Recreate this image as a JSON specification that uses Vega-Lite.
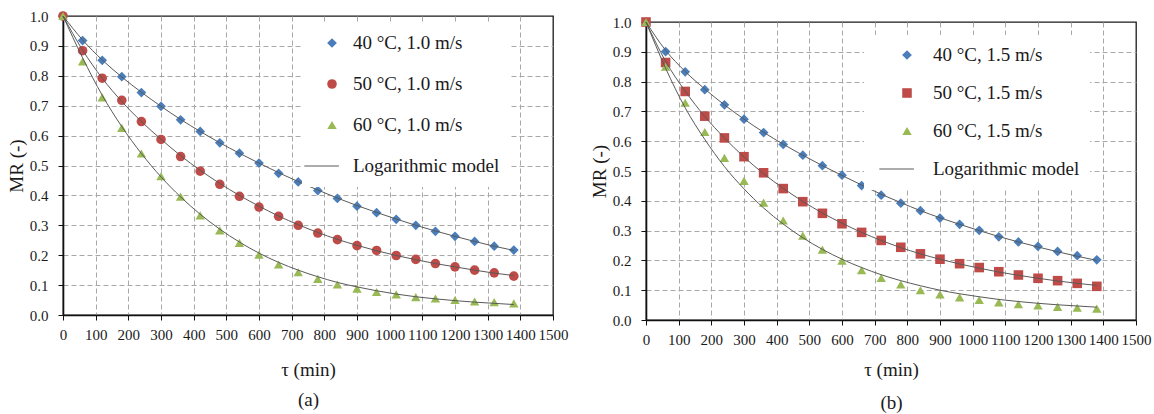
{
  "$schema": "https://vega.github.io/schema/vega-lite/v6.json",
  "background": "white",
  "padding": {"left": 6, "top": 8, "right": 0, "bottom": 0},
  "spacing": 20,
  "datasets": {
    "a": [
      {"t":0,"s":"40 °C, 1.0 m/s","mr":1.0,"fit":1.0},
      {"t":60,"s":"40 °C, 1.0 m/s","mr":0.918,"fit":0.920},
      {"t":120,"s":"40 °C, 1.0 m/s","mr":0.852,"fit":0.853},
      {"t":180,"s":"40 °C, 1.0 m/s","mr":0.797,"fit":0.796},
      {"t":240,"s":"40 °C, 1.0 m/s","mr":0.744,"fit":0.745},
      {"t":300,"s":"40 °C, 1.0 m/s","mr":0.698,"fit":0.698},
      {"t":360,"s":"40 °C, 1.0 m/s","mr":0.653,"fit":0.654},
      {"t":420,"s":"40 °C, 1.0 m/s","mr":0.614,"fit":0.614},
      {"t":480,"s":"40 °C, 1.0 m/s","mr":0.576,"fit":0.576},
      {"t":540,"s":"40 °C, 1.0 m/s","mr":0.541,"fit":0.541},
      {"t":600,"s":"40 °C, 1.0 m/s","mr":0.508,"fit":0.508},
      {"t":660,"s":"40 °C, 1.0 m/s","mr":0.474,"fit":0.476},
      {"t":720,"s":"40 °C, 1.0 m/s","mr":0.445,"fit":0.446},
      {"t":780,"s":"40 °C, 1.0 m/s","mr":0.416,"fit":0.418},
      {"t":840,"s":"40 °C, 1.0 m/s","mr":0.390,"fit":0.391},
      {"t":900,"s":"40 °C, 1.0 m/s","mr":0.364,"fit":0.366},
      {"t":960,"s":"40 °C, 1.0 m/s","mr":0.342,"fit":0.343},
      {"t":1020,"s":"40 °C, 1.0 m/s","mr":0.320,"fit":0.321},
      {"t":1080,"s":"40 °C, 1.0 m/s","mr":0.300,"fit":0.300},
      {"t":1140,"s":"40 °C, 1.0 m/s","mr":0.280,"fit":0.281},
      {"t":1200,"s":"40 °C, 1.0 m/s","mr":0.263,"fit":0.263},
      {"t":1260,"s":"40 °C, 1.0 m/s","mr":0.246,"fit":0.246},
      {"t":1320,"s":"40 °C, 1.0 m/s","mr":0.230,"fit":0.230},
      {"t":1380,"s":"40 °C, 1.0 m/s","mr":0.217,"fit":0.216},
      {"t":0,"s":"50 °C, 1.0 m/s","mr":1.0,"fit":1.0},
      {"t":60,"s":"50 °C, 1.0 m/s","mr":0.884,"fit":0.886},
      {"t":120,"s":"50 °C, 1.0 m/s","mr":0.792,"fit":0.792},
      {"t":180,"s":"50 °C, 1.0 m/s","mr":0.718,"fit":0.714},
      {"t":240,"s":"50 °C, 1.0 m/s","mr":0.647,"fit":0.647},
      {"t":300,"s":"50 °C, 1.0 m/s","mr":0.587,"fit":0.588},
      {"t":360,"s":"50 °C, 1.0 m/s","mr":0.530,"fit":0.533},
      {"t":420,"s":"50 °C, 1.0 m/s","mr":0.481,"fit":0.484},
      {"t":480,"s":"50 °C, 1.0 m/s","mr":0.437,"fit":0.440},
      {"t":540,"s":"50 °C, 1.0 m/s","mr":0.397,"fit":0.400},
      {"t":600,"s":"50 °C, 1.0 m/s","mr":0.361,"fit":0.364},
      {"t":660,"s":"50 °C, 1.0 m/s","mr":0.330,"fit":0.331},
      {"t":720,"s":"50 °C, 1.0 m/s","mr":0.300,"fit":0.302},
      {"t":780,"s":"50 °C, 1.0 m/s","mr":0.274,"fit":0.276},
      {"t":840,"s":"50 °C, 1.0 m/s","mr":0.252,"fit":0.253},
      {"t":900,"s":"50 °C, 1.0 m/s","mr":0.232,"fit":0.233},
      {"t":960,"s":"50 °C, 1.0 m/s","mr":0.216,"fit":0.215},
      {"t":1020,"s":"50 °C, 1.0 m/s","mr":0.199,"fit":0.199},
      {"t":1080,"s":"50 °C, 1.0 m/s","mr":0.186,"fit":0.185},
      {"t":1140,"s":"50 °C, 1.0 m/s","mr":0.172,"fit":0.172},
      {"t":1200,"s":"50 °C, 1.0 m/s","mr":0.161,"fit":0.161},
      {"t":1260,"s":"50 °C, 1.0 m/s","mr":0.150,"fit":0.150},
      {"t":1320,"s":"50 °C, 1.0 m/s","mr":0.141,"fit":0.140},
      {"t":1380,"s":"50 °C, 1.0 m/s","mr":0.130,"fit":0.132},
      {"t":0,"s":"60 °C, 1.0 m/s","mr":1.0,"fit":1.0},
      {"t":60,"s":"60 °C, 1.0 m/s","mr":0.848,"fit":0.860},
      {"t":120,"s":"60 °C, 1.0 m/s","mr":0.728,"fit":0.735},
      {"t":180,"s":"60 °C, 1.0 m/s","mr":0.626,"fit":0.630},
      {"t":240,"s":"60 °C, 1.0 m/s","mr":0.540,"fit":0.540},
      {"t":300,"s":"60 °C, 1.0 m/s","mr":0.464,"fit":0.462},
      {"t":360,"s":"60 °C, 1.0 m/s","mr":0.396,"fit":0.395},
      {"t":420,"s":"60 °C, 1.0 m/s","mr":0.333,"fit":0.337},
      {"t":480,"s":"60 °C, 1.0 m/s","mr":0.283,"fit":0.287},
      {"t":540,"s":"60 °C, 1.0 m/s","mr":0.241,"fit":0.244},
      {"t":600,"s":"60 °C, 1.0 m/s","mr":0.202,"fit":0.207},
      {"t":660,"s":"60 °C, 1.0 m/s","mr":0.169,"fit":0.176},
      {"t":720,"s":"60 °C, 1.0 m/s","mr":0.143,"fit":0.150},
      {"t":780,"s":"60 °C, 1.0 m/s","mr":0.121,"fit":0.128},
      {"t":840,"s":"60 °C, 1.0 m/s","mr":0.102,"fit":0.109},
      {"t":900,"s":"60 °C, 1.0 m/s","mr":0.088,"fit":0.094},
      {"t":960,"s":"60 °C, 1.0 m/s","mr":0.077,"fit":0.081},
      {"t":1020,"s":"60 °C, 1.0 m/s","mr":0.069,"fit":0.070},
      {"t":1080,"s":"60 °C, 1.0 m/s","mr":0.060,"fit":0.061},
      {"t":1140,"s":"60 °C, 1.0 m/s","mr":0.055,"fit":0.054},
      {"t":1200,"s":"60 °C, 1.0 m/s","mr":0.050,"fit":0.048},
      {"t":1260,"s":"60 °C, 1.0 m/s","mr":0.045,"fit":0.043},
      {"t":1320,"s":"60 °C, 1.0 m/s","mr":0.043,"fit":0.039},
      {"t":1380,"s":"60 °C, 1.0 m/s","mr":0.039,"fit":0.035}
    ],
    "b": [
      {"t":0,"s":"40 °C, 1.5 m/s","mr":1.0,"fit":1.0},
      {"t":60,"s":"40 °C, 1.5 m/s","mr":0.901,"fit":0.905},
      {"t":120,"s":"40 °C, 1.5 m/s","mr":0.833,"fit":0.834},
      {"t":180,"s":"40 °C, 1.5 m/s","mr":0.773,"fit":0.775},
      {"t":240,"s":"40 °C, 1.5 m/s","mr":0.722,"fit":0.722},
      {"t":300,"s":"40 °C, 1.5 m/s","mr":0.674,"fit":0.674},
      {"t":360,"s":"40 °C, 1.5 m/s","mr":0.629,"fit":0.630},
      {"t":420,"s":"40 °C, 1.5 m/s","mr":0.589,"fit":0.590},
      {"t":480,"s":"40 °C, 1.5 m/s","mr":0.553,"fit":0.553},
      {"t":540,"s":"40 °C, 1.5 m/s","mr":0.518,"fit":0.518},
      {"t":600,"s":"40 °C, 1.5 m/s","mr":0.486,"fit":0.485},
      {"t":660,"s":"40 °C, 1.5 m/s","mr":0.451,"fit":0.453},
      {"t":720,"s":"40 °C, 1.5 m/s","mr":0.419,"fit":0.422},
      {"t":780,"s":"40 °C, 1.5 m/s","mr":0.392,"fit":0.394},
      {"t":840,"s":"40 °C, 1.5 m/s","mr":0.367,"fit":0.367},
      {"t":900,"s":"40 °C, 1.5 m/s","mr":0.342,"fit":0.343},
      {"t":960,"s":"40 °C, 1.5 m/s","mr":0.321,"fit":0.321},
      {"t":1020,"s":"40 °C, 1.5 m/s","mr":0.301,"fit":0.300},
      {"t":1080,"s":"40 °C, 1.5 m/s","mr":0.279,"fit":0.280},
      {"t":1140,"s":"40 °C, 1.5 m/s","mr":0.262,"fit":0.262},
      {"t":1200,"s":"40 °C, 1.5 m/s","mr":0.247,"fit":0.245},
      {"t":1260,"s":"40 °C, 1.5 m/s","mr":0.230,"fit":0.229},
      {"t":1320,"s":"40 °C, 1.5 m/s","mr":0.216,"fit":0.214},
      {"t":1380,"s":"40 °C, 1.5 m/s","mr":0.202,"fit":0.200},
      {"t":0,"s":"50 °C, 1.5 m/s","mr":1.0,"fit":1.0},
      {"t":60,"s":"50 °C, 1.5 m/s","mr":0.864,"fit":0.868},
      {"t":120,"s":"50 °C, 1.5 m/s","mr":0.767,"fit":0.768},
      {"t":180,"s":"50 °C, 1.5 m/s","mr":0.684,"fit":0.683},
      {"t":240,"s":"50 °C, 1.5 m/s","mr":0.611,"fit":0.611},
      {"t":300,"s":"50 °C, 1.5 m/s","mr":0.548,"fit":0.547},
      {"t":360,"s":"50 °C, 1.5 m/s","mr":0.494,"fit":0.491},
      {"t":420,"s":"50 °C, 1.5 m/s","mr":0.441,"fit":0.442},
      {"t":480,"s":"50 °C, 1.5 m/s","mr":0.397,"fit":0.398},
      {"t":540,"s":"50 °C, 1.5 m/s","mr":0.358,"fit":0.359},
      {"t":600,"s":"50 °C, 1.5 m/s","mr":0.323,"fit":0.325},
      {"t":660,"s":"50 °C, 1.5 m/s","mr":0.294,"fit":0.294},
      {"t":720,"s":"50 °C, 1.5 m/s","mr":0.267,"fit":0.267},
      {"t":780,"s":"50 °C, 1.5 m/s","mr":0.244,"fit":0.243},
      {"t":840,"s":"50 °C, 1.5 m/s","mr":0.222,"fit":0.222},
      {"t":900,"s":"50 °C, 1.5 m/s","mr":0.204,"fit":0.204},
      {"t":960,"s":"50 °C, 1.5 m/s","mr":0.189,"fit":0.188},
      {"t":1020,"s":"50 °C, 1.5 m/s","mr":0.176,"fit":0.174},
      {"t":1080,"s":"50 °C, 1.5 m/s","mr":0.162,"fit":0.161},
      {"t":1140,"s":"50 °C, 1.5 m/s","mr":0.151,"fit":0.150},
      {"t":1200,"s":"50 °C, 1.5 m/s","mr":0.140,"fit":0.140},
      {"t":1260,"s":"50 °C, 1.5 m/s","mr":0.132,"fit":0.131},
      {"t":1320,"s":"50 °C, 1.5 m/s","mr":0.123,"fit":0.123},
      {"t":1380,"s":"50 °C, 1.5 m/s","mr":0.113,"fit":0.116},
      {"t":0,"s":"60 °C, 1.5 m/s","mr":1.0,"fit":1.0},
      {"t":60,"s":"60 °C, 1.5 m/s","mr":0.850,"fit":0.845},
      {"t":120,"s":"60 °C, 1.5 m/s","mr":0.729,"fit":0.712},
      {"t":180,"s":"60 °C, 1.5 m/s","mr":0.631,"fit":0.606},
      {"t":240,"s":"60 °C, 1.5 m/s","mr":0.544,"fit":0.515},
      {"t":300,"s":"60 °C, 1.5 m/s","mr":0.467,"fit":0.440},
      {"t":360,"s":"60 °C, 1.5 m/s","mr":0.394,"fit":0.376},
      {"t":420,"s":"60 °C, 1.5 m/s","mr":0.334,"fit":0.322},
      {"t":480,"s":"60 °C, 1.5 m/s","mr":0.283,"fit":0.276},
      {"t":540,"s":"60 °C, 1.5 m/s","mr":0.236,"fit":0.237},
      {"t":600,"s":"60 °C, 1.5 m/s","mr":0.199,"fit":0.204},
      {"t":660,"s":"60 °C, 1.5 m/s","mr":0.167,"fit":0.176},
      {"t":720,"s":"60 °C, 1.5 m/s","mr":0.141,"fit":0.152},
      {"t":780,"s":"60 °C, 1.5 m/s","mr":0.119,"fit":0.132},
      {"t":840,"s":"60 °C, 1.5 m/s","mr":0.100,"fit":0.115},
      {"t":900,"s":"60 °C, 1.5 m/s","mr":0.086,"fit":0.100},
      {"t":960,"s":"60 °C, 1.5 m/s","mr":0.076,"fit":0.088},
      {"t":1020,"s":"60 °C, 1.5 m/s","mr":0.067,"fit":0.078},
      {"t":1080,"s":"60 °C, 1.5 m/s","mr":0.059,"fit":0.069},
      {"t":1140,"s":"60 °C, 1.5 m/s","mr":0.053,"fit":0.062},
      {"t":1200,"s":"60 °C, 1.5 m/s","mr":0.049,"fit":0.056},
      {"t":1260,"s":"60 °C, 1.5 m/s","mr":0.044,"fit":0.051},
      {"t":1320,"s":"60 °C, 1.5 m/s","mr":0.041,"fit":0.047},
      {"t":1380,"s":"60 °C, 1.5 m/s","mr":0.038,"fit":0.043}
    ]
  },
  "hconcat": [
    {
      "width": 490,
      "height": 299,
      "view": {"stroke": "#1a1a1a", "strokeWidth": 1.3},
      "data": {"name": "a"},
      "encoding": {
        "x": {"field": "t", "type": "quantitative",
          "scale": {"domain": [0, 1500], "nice": false},
          "axis": {"values": [0,100,200,300,400,500,600,700,800,900,1000,1100,1200,1300,1400,1500], "format": "d", "title": ["τ (min)", "(a)"], "titleLineHeight": 30, "titlePadding": 18, "labelPadding": 7, "labelFlush": false, "labelOverlap": false,
            "gridOpacity": {"condition": {"test": "datum.value >= 1500", "value": 0}, "value": 1}}}
      },
      "layer": [
        {
          "mark": {"type": "point", "filled": true, "opacity": 1},
          "encoding": {
            "y": {"field": "mr", "type": "quantitative",
              "scale": {"domain": [0, 1], "nice": false},
              "axis": {"values": [0,0.1,0.2,0.3,0.4,0.5,0.6,0.7,0.8,0.9,1], "format": ".1f", "title": "MR (-)", "titlePadding": 3, "labelPadding": 10,
                "gridOpacity": {"condition": {"test": "datum.value >= 1", "value": 0}, "value": 1}}},
            "size": {"field": "s", "type": "ordinal", "legend": null,
              "scale": {"domain": ["40 °C, 1.0 m/s", "50 °C, 1.0 m/s", "60 °C, 1.0 m/s", "Logarithmic model"], "range": [95, 85, 110, 40]}},
            "color": {"field": "s", "type": "nominal",
              "scale": {"domain": ["40 °C, 1.0 m/s", "50 °C, 1.0 m/s", "60 °C, 1.0 m/s", "Logarithmic model"], "range": ["#4a7ebb", "#be4b48", "#98b954", "#595959"]},
              "legend": {"orient": "none", "legendX": 239, "legendY": 7, "padding": 10.5, "fillColor": "white", "title": null, "labelFontSize": 19, "labelLimit": 400, "symbolSize": 40, "rowPadding": 21, "symbolOffset": 10, "labelOffset": 11.5, "symbolOpacity": 1, "labelExpr": "datum.label + '\u00a0\u00a0\u00a0\u00a0\u00a0\u00a0\u00a0\u00a0'",
                "encode": {"symbols": {"update": {"stroke": [{"test": "datum.value === 'Logarithmic model'", "value": "#595959"}, {"value": "transparent"}], "strokeWidth": {"value": 1}}}}}},
            "shape": {"field": "s", "type": "nominal",
              "scale": {"domain": ["40 °C, 1.0 m/s", "50 °C, 1.0 m/s", "60 °C, 1.0 m/s", "Logarithmic model"], "range": ["diamond", "circle", "triangle-up", "M-6,0L1.5,0"]},
              "legend": {"orient": "none", "legendX": 239, "legendY": 7, "padding": 10.5, "fillColor": "white", "title": null, "labelFontSize": 19, "labelLimit": 400, "symbolSize": 40, "rowPadding": 21, "symbolOffset": 10, "labelOffset": 11.5, "symbolOpacity": 1, "labelExpr": "datum.label + '\u00a0\u00a0\u00a0\u00a0\u00a0\u00a0\u00a0\u00a0'",
                "encode": {"symbols": {"update": {"stroke": [{"test": "datum.value === 'Logarithmic model'", "value": "#595959"}, {"value": "transparent"}], "strokeWidth": {"value": 1}}}}}}
          }
        },
        {
          "mark": {"type": "line", "color": "#595959", "strokeWidth": 1, "interpolate": "monotone"},
          "encoding": {
            "y": {"field": "fit", "type": "quantitative",
              "axis": {"values": [0,0.1,0.2,0.3,0.4,0.5,0.6,0.7,0.8,0.9,1], "format": ".1f", "title": "MR (-)", "titlePadding": 3, "labelPadding": 10,
                "gridOpacity": {"condition": {"test": "datum.value >= 1", "value": 0}, "value": 1}}},
            "detail": {"field": "s", "type": "nominal"}
          }
        }
      ]
    },
    {
      "spacing": -3,
      "vconcat": [
        {
          "width": 490,
          "height": 1,
          "view": {"stroke": null},
          "data": {"values": []},
          "mark": "point"
        },
        {
          "width": 490,
          "height": 298,
          "view": {"stroke": "#1a1a1a", "strokeWidth": 1.3},
          "data": {"name": "b"},
          "encoding": {
            "x": {"field": "t", "type": "quantitative",
              "scale": {"domain": [0, 1500], "nice": false},
              "axis": {"values": [0,100,200,300,400,500,600,700,800,900,1000,1100,1200,1300,1400,1500], "format": "d", "title": ["τ (min)", "(b)"], "titleLineHeight": 33, "titlePadding": 13, "labelPadding": 7, "labelFlush": false, "labelOverlap": false,
                "gridOpacity": {"condition": {"test": "datum.value >= 1500", "value": 0}, "value": 1}}}
          },
          "layer": [
            {
              "mark": {"type": "point", "filled": true, "opacity": 1},
              "encoding": {
                "y": {"field": "mr", "type": "quantitative",
                  "scale": {"domain": [0, 1], "nice": false},
                  "axis": {"values": [0,0.1,0.2,0.3,0.4,0.5,0.6,0.7,0.8,0.9,1], "format": ".1f", "title": "MR (-)", "titlePadding": 3, "labelPadding": 10,
                    "gridOpacity": {"condition": {"test": "datum.value >= 1", "value": 0}, "value": 1}}},
                "size": {"field": "s", "type": "ordinal", "legend": null,
                  "scale": {"domain": ["40 °C, 1.5 m/s", "50 °C, 1.5 m/s", "60 °C, 1.5 m/s", "Logarithmic model"], "range": [95, 85, 110, 40]}},
                "color": {"field": "s", "type": "nominal",
                  "scale": {"domain": ["40 °C, 1.5 m/s", "50 °C, 1.5 m/s", "60 °C, 1.5 m/s", "Logarithmic model"], "range": ["#4a7ebb", "#be4b48", "#98b954", "#595959"]},
                  "legend": {"orient": "none", "legendX": 218, "legendY": 19, "padding": 10.5, "fillColor": "white", "title": null, "labelFontSize": 19, "labelLimit": 400, "symbolSize": 40, "rowPadding": 18, "symbolOffset": 23, "labelOffset": 16.5, "symbolOpacity": 1, "labelExpr": "datum.label + '\u00a0\u00a0\u00a0\u00a0\u00a0\u00a0\u00a0\u00a0'",
                    "encode": {"symbols": {"update": {"stroke": [{"test": "datum.value === 'Logarithmic model'", "value": "#595959"}, {"value": "transparent"}], "strokeWidth": {"value": 1}}}}}},
                "shape": {"field": "s", "type": "nominal",
                  "scale": {"domain": ["40 °C, 1.5 m/s", "50 °C, 1.5 m/s", "60 °C, 1.5 m/s", "Logarithmic model"], "range": ["diamond", "square", "triangle-up", "M-6,0L1.5,0"]},
                  "legend": {"orient": "none", "legendX": 218, "legendY": 19, "padding": 10.5, "fillColor": "white", "title": null, "labelFontSize": 19, "labelLimit": 400, "symbolSize": 40, "rowPadding": 18, "symbolOffset": 23, "labelOffset": 16.5, "symbolOpacity": 1, "labelExpr": "datum.label + '\u00a0\u00a0\u00a0\u00a0\u00a0\u00a0\u00a0\u00a0'",
                    "encode": {"symbols": {"update": {"stroke": [{"test": "datum.value === 'Logarithmic model'", "value": "#595959"}, {"value": "transparent"}], "strokeWidth": {"value": 1}}}}}}
              }
            },
            {
              "mark": {"type": "line", "color": "#595959", "strokeWidth": 1, "interpolate": "monotone"},
              "encoding": {
                "y": {"field": "fit", "type": "quantitative",
                  "axis": {"values": [0,0.1,0.2,0.3,0.4,0.5,0.6,0.7,0.8,0.9,1], "format": ".1f", "title": "MR (-)", "titlePadding": 3, "labelPadding": 10,
                    "gridOpacity": {"condition": {"test": "datum.value >= 1", "value": 0}, "value": 1}}},
                "detail": {"field": "s", "type": "nominal"}
              }
            }
          ]
        }
      ]
    }
  ],
  "resolve": {"scale": {"color": "independent", "shape": "independent", "size": "independent"}, "legend": {"color": "independent", "shape": "independent"}},
  "config": {
    "font": "Liberation Serif",
    "view": {"stroke": "#1a1a1a", "strokeWidth": 1.3},
    "title": {"font": "Liberation Serif"},
    "axis": {
      "grid": true, "gridColor": "#a8a8a8", "gridDash": [5, 3], "gridWidth": 1,
      "domainColor": "#111", "domainWidth": 1.6,
      "tickColor": "#111", "tickSize": 5, "tickWidth": 1,
      "labelFont": "Liberation Serif", "labelFontSize": 15, "labelColor": "#1a1a1a",
      "titleFont": "Liberation Serif", "titleFontSize": 19, "titleFontWeight": "normal", "titleColor": "#1a1a1a"
    },
    "legend": {"labelFont": "Liberation Serif", "labelColor": "#1a1a1a"}
  }
}
